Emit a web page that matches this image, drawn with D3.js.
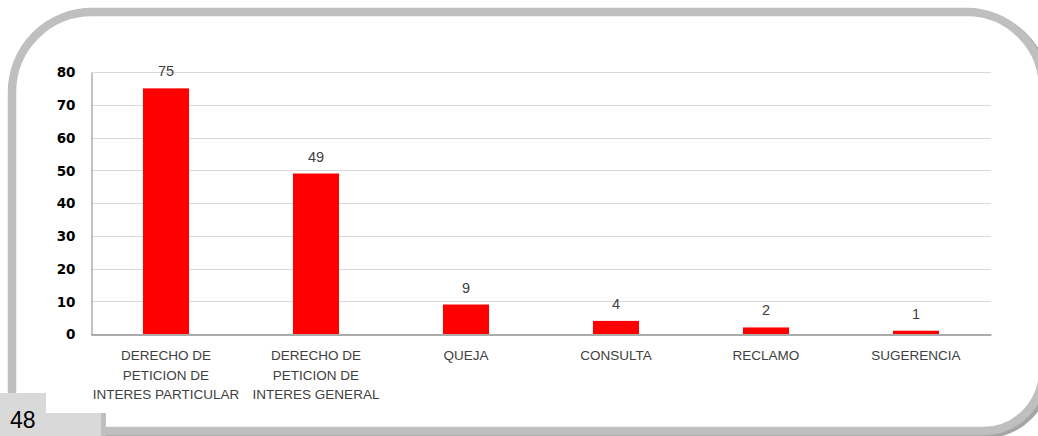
<!DOCTYPE html>
<html><head><meta charset="utf-8">
<script src="https://cdn.jsdelivr.net/npm/d3@7"></script>
<style>html,body{margin:0;padding:0;background:#fff;}svg{display:block;}</style>
</head><body>
<svg id="c" width="1038" height="436"></svg>
<script>
const categories = [
  ["DERECHO DE", "PETICION DE", "INTERES PARTICULAR"],
  ["DERECHO DE", "PETICION DE", "INTERES GENERAL"],
  ["QUEJA"],
  ["CONSULTA"],
  ["RECLAMO"],
  ["SUGERENCIA"]
];
const values = [75, 49, 9, 4, 2, 1];
const yTicks = [0, 10, 20, 30, 40, 50, 60, 70, 80];
const pageNumber = "48";

(function () {
const svg = d3.select("#c");

function framePath(x0, y0, x1, y1, rtl, rtr, rbr, rbl) {
  return `M${x0},${y0+rtl} A${rtl},${rtl} 0 0 1 ${x0+rtl},${y0}
    L${x1-rtr},${y0} A${rtr},${rtr} 0 0 1 ${x1},${y0+rtr}
    L${x1},${y1-rbr} A${rbr},${rbr} 0 0 1 ${x1-rbr},${y1}
    L${x0+rbl},${y1} A${rbl},${rbl} 0 0 1 ${x0},${y1-rbl} Z`;
}
svg.append("path").attr("d", framePath(15, 14, 1046, 434, 80, 76, 60, 34))
  .attr("fill", "none").attr("stroke", "#a6a6a6").attr("stroke-width", 8);
svg.append("path").attr("d", framePath(12, 12, 1043, 431, 80, 76, 60, 34))
  .attr("fill", "#fff").attr("stroke", "#bfbfbf").attr("stroke-width", 8.5);

// page number box
svg.append("rect").attr("x", 0).attr("y", 393).attr("width", 46).attr("height", 43).attr("fill", "#d9d9d9");
svg.append("rect").attr("x", 45).attr("y", 413).attr("width", 56).attr("height", 23).attr("fill", "#d9d9d9");
svg.append("rect").attr("x", 101).attr("y", 413).attr("width", 5).attr("height", 23).attr("fill", "#bfbfbf");
svg.append("text").attr("x", 10).attr("y", 428).text(pageNumber)
  .attr("font-family", "Liberation Sans, Arial, sans-serif").attr("font-size", 23).attr("fill", "#000");

// chart
const pl = 91, pr = 991, pt = 72, pb = 334;
const x = d3.scaleBand().domain(d3.range(values.length)).range([pl, pr]).paddingInner(0.693).paddingOuter(0.3465);
const y = d3.scaleLinear().domain([0, 80]).range([pb, pt]);

const g = svg.append("g");
g.selectAll("line.grid").data(yTicks.filter(t => t > 0)).join("line")
  .attr("x1", pl).attr("x2", pr)
  .attr("y1", d => Math.round(y(d)) + 0.5).attr("y2", d => Math.round(y(d)) + 0.5)
  .attr("stroke", "#d9d9d9").attr("stroke-width", 1);

const yAxis = d3.axisLeft(y).tickValues(yTicks).tickSize(0).tickPadding(16);
const ya = g.append("g").attr("transform", `translate(${pl + 0.5},0.5)`).call(yAxis);
ya.select(".domain").attr("stroke", "#868686");
ya.selectAll("text").attr("font-family", "DejaVu Sans, sans-serif").attr("font-weight", "bold")
  .attr("font-size", 13.5).attr("fill", "#000");

g.selectAll("rect.bar").data(values).join("rect")
  .attr("x", (d, i) => x(i)).attr("width", x.bandwidth())
  .attr("y", d => y(d)).attr("height", d => pb - y(d))
  .attr("fill", "#ff0000");

const xAxis = d3.axisBottom(x).tickSize(0).tickFormat(() => "");
const xa = g.append("g").attr("transform", `translate(0,${pb + 0.5})`).call(xAxis);
xa.select(".domain").attr("stroke", "#595959");

g.selectAll("text.cat").data(categories).join("text")
  .attr("class", "cat")
  .attr("text-anchor", "middle")
  .attr("font-family", "Liberation Sans, Arial, sans-serif").attr("font-size", 13.5).attr("fill", "#404040")
  .each(function(lines, i) {
    const t = d3.select(this);
    lines.forEach((ln, k) => {
      t.append("tspan").attr("x", x(i) + x.bandwidth() / 2).attr("y", 360 + k * 19.5).text(ln);
    });
  });

g.selectAll("text.val").data(values).join("text")
  .attr("class", "val")
  .attr("x", (d, i) => x(i) + x.bandwidth() / 2)
  .attr("y", d => y(d) - 12)
  .attr("text-anchor", "middle")
  .attr("font-family", "Liberation Sans, Arial, sans-serif").attr("font-size", 14.5).attr("fill", "#404040")
  .text(d => d);
})();
</script>
</body></html>
